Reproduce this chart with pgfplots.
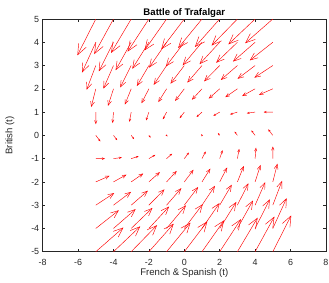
\documentclass[border=0pt]{standalone}
\usepackage{fontspec}
\setmainfont{Liberation Sans}
\usepackage{pgfplots}
\usepackage{pgfplotstable}
\pgfplotsset{compat=1.18}
\usetikzlibrary{arrows.meta}
\definecolor{axc}{rgb}{0.15,0.15,0.15}
\definecolor{qred}{rgb}{1,0,0}

\pgfplotstableread{
x y u v
-5 5 -1.04 -1.56
-4 5 -1.09 -1.51
-3 5 -1.14 -1.46
-2 5 -1.20 -1.40
-1 5 -1.25 -1.35
0 5 -1.30 -1.30
1 5 -1.35 -1.25
2 5 -1.40 -1.20
3 5 -1.46 -1.14
4 5 -1.51 -1.09
5 5 -1.56 -1.04
-5 4 -0.78 -1.30
-4 4 -0.83 -1.25
-3 4 -0.88 -1.20
-2 4 -0.94 -1.14
-1 4 -0.99 -1.09
0 4 -1.04 -1.04
1 4 -1.09 -0.99
2 4 -1.14 -0.94
3 4 -1.20 -0.88
4 4 -1.25 -0.83
5 4 -1.30 -0.78
-5 3 -0.52 -1.04
-4 3 -0.57 -0.99
-3 3 -0.62 -0.94
-2 3 -0.68 -0.88
-1 3 -0.73 -0.83
0 3 -0.78 -0.78
1 3 -0.83 -0.73
2 3 -0.88 -0.68
3 3 -0.94 -0.62
4 3 -0.99 -0.57
5 3 -1.04 -0.52
-5 2 -0.26 -0.78
-4 2 -0.31 -0.73
-3 2 -0.36 -0.68
-2 2 -0.42 -0.62
-1 2 -0.47 -0.57
0 2 -0.52 -0.52
1 2 -0.57 -0.47
2 2 -0.62 -0.42
3 2 -0.68 -0.36
4 2 -0.73 -0.31
5 2 -0.78 -0.26
-5 1 0.001 -0.52
-4 1 -0.05 -0.47
-3 1 -0.10 -0.42
-2 1 -0.16 -0.36
-1 1 -0.21 -0.31
0 1 -0.26 -0.26
1 1 -0.31 -0.21
2 1 -0.36 -0.16
3 1 -0.42 -0.10
4 1 -0.47 -0.05
5 1 -0.52 0.001
-5 0 0.26 -0.26
-4 0 0.21 -0.21
-3 0 0.16 -0.16
-2 0 0.10 -0.10
-1 0 0.05 -0.05
1 0 -0.05 0.05
2 0 -0.10 0.10
3 0 -0.16 0.16
4 0 -0.21 0.21
5 0 -0.26 0.26
-5 -1 0.52 0.001
-4 -1 0.47 0.05
-3 -1 0.42 0.10
-2 -1 0.36 0.16
-1 -1 0.31 0.21
0 -1 0.26 0.26
1 -1 0.21 0.31
2 -1 0.16 0.36
3 -1 0.10 0.42
4 -1 0.05 0.47
5 -1 0.001 0.52
-5 -2 0.78 0.26
-4 -2 0.73 0.31
-3 -2 0.68 0.36
-2 -2 0.62 0.42
-1 -2 0.57 0.47
0 -2 0.52 0.52
1 -2 0.47 0.57
2 -2 0.42 0.62
3 -2 0.36 0.68
4 -2 0.31 0.73
5 -2 0.26 0.78
-5 -3 1.04 0.52
-4 -3 0.99 0.57
-3 -3 0.94 0.62
-2 -3 0.88 0.68
-1 -3 0.83 0.73
0 -3 0.78 0.78
1 -3 0.73 0.83
2 -3 0.68 0.88
3 -3 0.62 0.94
4 -3 0.57 0.99
5 -3 0.52 1.04
-5 -4 1.30 0.78
-4 -4 1.25 0.83
-3 -4 1.20 0.88
-2 -4 1.14 0.94
-1 -4 1.09 0.99
0 -4 1.04 1.04
1 -4 0.99 1.09
2 -4 0.94 1.14
3 -4 0.88 1.20
4 -4 0.83 1.25
5 -4 0.78 1.30
-5 -5 1.56 1.04
-4 -5 1.51 1.09
-3 -5 1.46 1.14
-2 -5 1.40 1.20
-1 -5 1.35 1.25
0 -5 1.30 1.30
1 -5 1.25 1.35
2 -5 1.20 1.40
3 -5 1.14 1.46
4 -5 1.09 1.51
5 -5 1.04 1.56
}\quiverdata

\begin{document}
\begin{tikzpicture}
\begin{axis}[
  scale only axis, width=283.2pt, height=232.7pt,
  xmin=-8, xmax=8, ymin=-5, ymax=5,
  xtick={-8,-6,...,8}, ytick={-5,-4,...,5},
  tick align=inside, major tick length=2.5pt,
  axis line style={axc, line width=0.5pt},
  tick style={axc, line width=0.5pt},
  /pgf/number format/assume math mode=true,
  every tick label/.append style={font=\fontsize{8.9}{10}\selectfont, text=axc},
  xticklabel style={anchor=center, yshift=-10.3pt},
  title={Battle of Trafalgar},
  title style={font=\fontsize{9.6}{11}\selectfont\bfseries, at={(axis description cs:0.5,1)}, anchor=center, yshift=0pt},
  xlabel={French \& Spanish (t)}, ylabel={British (t)},
  label style={font=\fontsize{9.6}{11}\selectfont, text=axc},
  xlabel style={at={(axis description cs:0.5,0)}, anchor=center, yshift=-21.5pt},
  ylabel style={at={(axis description cs:0,0.5)}, anchor=center, rotate=0, yshift=32.7pt},
  point meta min=0, point meta max=100,
  clip=true,
]
\coordinate (sw) at (rel axis cs:0,0);
\addplot[qred, line width=0.45pt,
  point meta={sqrt((17.7*\thisrow{u})^2+(23.27*\thisrow{v})^2)},
  quiver={u=\thisrow{u}, v=\thisrow{v},
    every arrow/.append style={/utils/exec={\pgfmathsetlengthmacro\hl{max(1.5,0.026*\pgfplotspointmetatransformed)}\pgfmathsetlengthmacro\hw{0.8*\hl}}, -{Straight Barb[length=\hl,width=\hw]}}}]
  table {\quiverdata};
\end{axis}
\pgfresetboundingbox
\path[use as bounding box] ([xshift=-42.7pt,yshift=-30.3pt]sw) rectangle ([xshift=286.3pt,yshift=251.7pt]sw);
\end{tikzpicture}
\end{document}
